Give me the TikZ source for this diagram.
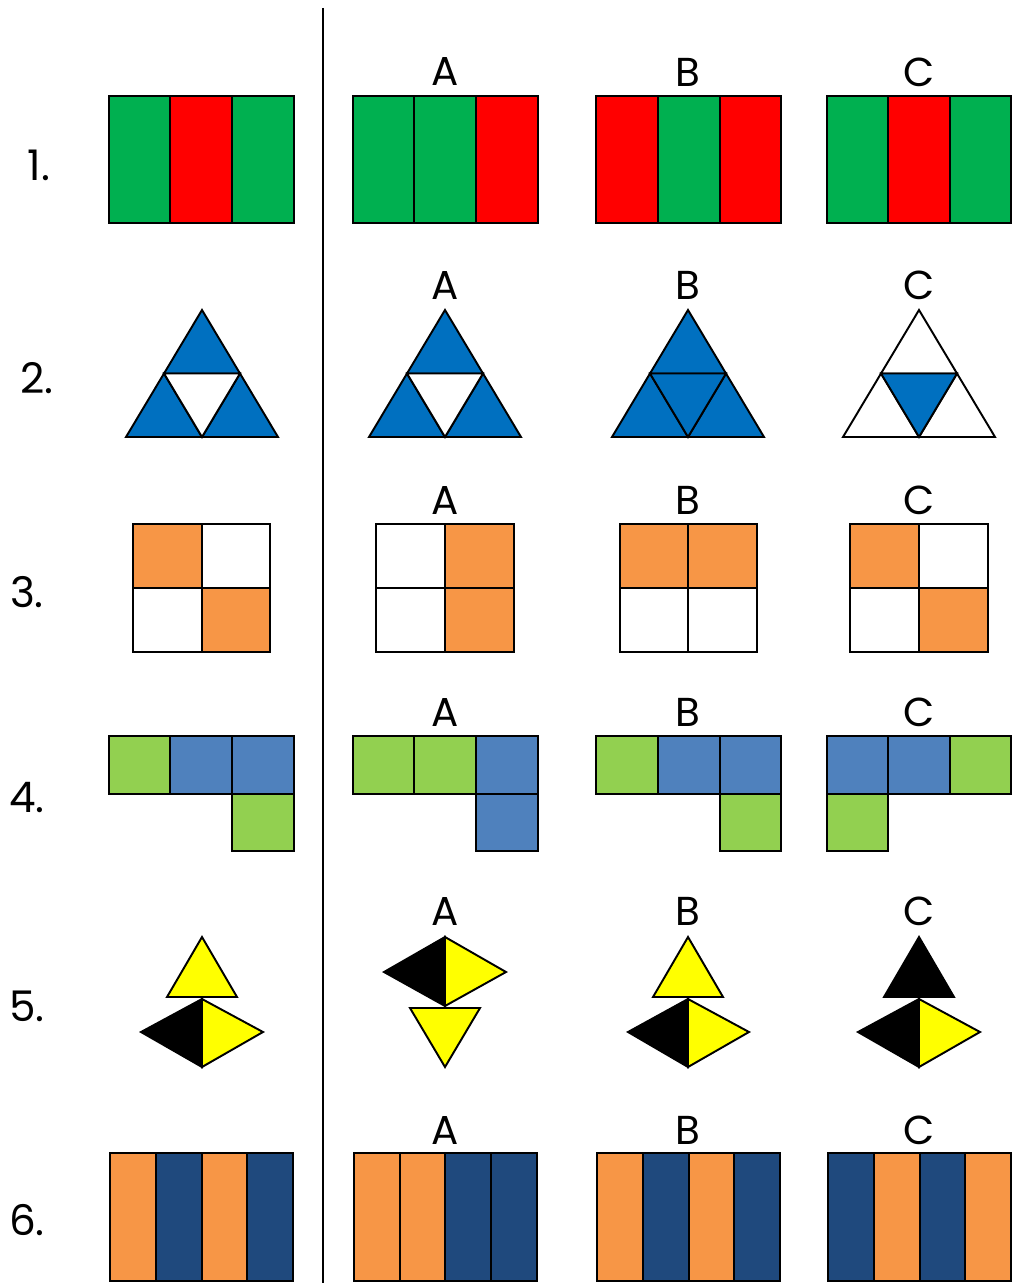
\documentclass[tikz,border=0pt]{standalone}
\usepackage{fontspec}
\setmainfont{Poppins}
\usepackage{xcolor}

\definecolor{grn}{HTML}{00B050}
\definecolor{rd}{HTML}{FF0000}
\definecolor{blu}{HTML}{0070C0}
\definecolor{orng}{HTML}{F79646}
\definecolor{lgrn}{HTML}{92D050}
\definecolor{mblu}{HTML}{4F81BD}
\definecolor{ylw}{HTML}{FFFF00}
\definecolor{navy}{HTML}{1F497D}

\begin{document}
\begin{tikzpicture}[
  x=0.02cm, y=-0.02cm,
  cell/.style={draw=black,line width=1.1pt,line join=miter},  rowlbl/.style={inner sep=0pt,font=\fontsize{24}{28}\selectfont},  optlbl/.style={inner sep=0pt,font=\fontsize{23}{27}\selectfont}
]
  \useasboundingbox (0,0) rectangle (1011,1283);
  \draw[line width=1.1pt] (323,8) -- (323,1283);

  % row numbers
  \node[rowlbl] (n1) at (39,165) {1.};
  \node[rowlbl] (n2) at (37,378) {2.};
  \node[rowlbl] (n3) at (27,592) {3.};
  \node[rowlbl] (n4) at (27,798) {4.};
  \node[rowlbl] (n5) at (27,1006) {5.};
  \node[rowlbl] (n6) at (27,1220) {6.};

  % option letters
  \node[optlbl] (a1) at (445,72) {A};
  \node[optlbl] (b1) at (688,72) {B};
  \node[optlbl] (c1) at (919,72) {C};
  \node[optlbl] (a2) at (445,285) {A};
  \node[optlbl] (b2) at (688,285) {B};
  \node[optlbl] (c2) at (919,285) {C};
  \node[optlbl] (a3) at (445,500) {A};
  \node[optlbl] (b3) at (688,500) {B};
  \node[optlbl] (c3) at (919,500) {C};
  \node[optlbl] (a4) at (445,712) {A};
  \node[optlbl] (b4) at (688,712) {B};
  \node[optlbl] (c4) at (919,712) {C};
  \node[optlbl] (a5) at (445,911) {A};
  \node[optlbl] (b5) at (688,911) {B};
  \node[optlbl] (c5) at (919,911) {C};
  \node[optlbl] (a6) at (445,1130) {A};
  \node[optlbl] (b6) at (688,1130) {B};
  \node[optlbl] (c6) at (919,1130) {C};

  % row 1
  \draw[cell,fill=grn] (109,96) rectangle (170,223);
  \draw[cell,fill=rd] (170,96) rectangle (232,223);
  \draw[cell,fill=grn] (232,96) rectangle (294,223);
  \draw[cell,fill=grn] (353,96) rectangle (414,223);
  \draw[cell,fill=grn] (414,96) rectangle (476,223);
  \draw[cell,fill=rd] (476,96) rectangle (538,223);
  \draw[cell,fill=rd] (596,96) rectangle (658,223);
  \draw[cell,fill=grn] (658,96) rectangle (720,223);
  \draw[cell,fill=rd] (720,96) rectangle (781,223);
  \draw[cell,fill=grn] (827,96) rectangle (888,223);
  \draw[cell,fill=rd] (888,96) rectangle (950,223);
  \draw[cell,fill=grn] (950,96) rectangle (1011,223);

  % row 2
  \draw[cell,fill=blu] (202,310) -- (164,373.5) -- (240,373.5) -- cycle;
  \draw[cell,fill=blu] (164,373.5) -- (126,437) -- (202,437) -- cycle;
  \draw[cell,fill=blu] (240,373.5) -- (202,437) -- (278,437) -- cycle;
  \draw[cell,fill=white] (164,373.5) -- (240,373.5) -- (202,437) -- cycle;
  \draw[cell,fill=blu] (445,310) -- (407,373.5) -- (483,373.5) -- cycle;
  \draw[cell,fill=blu] (407,373.5) -- (369,437) -- (445,437) -- cycle;
  \draw[cell,fill=blu] (483,373.5) -- (445,437) -- (521,437) -- cycle;
  \draw[cell,fill=white] (407,373.5) -- (483,373.5) -- (445,437) -- cycle;
  \draw[cell,fill=blu] (688,310) -- (650,373.5) -- (726,373.5) -- cycle;
  \draw[cell,fill=blu] (650,373.5) -- (612,437) -- (688,437) -- cycle;
  \draw[cell,fill=blu] (726,373.5) -- (688,437) -- (764,437) -- cycle;
  \draw[cell,fill=blu] (650,373.5) -- (726,373.5) -- (688,437) -- cycle;
  \draw[cell,fill=white] (919,310) -- (881,373.5) -- (957,373.5) -- cycle;
  \draw[cell,fill=white] (881,373.5) -- (843,437) -- (919,437) -- cycle;
  \draw[cell,fill=white] (957,373.5) -- (919,437) -- (995,437) -- cycle;
  \draw[cell,fill=blu] (881,373.5) -- (957,373.5) -- (919,437) -- cycle;

  % row 3
  \draw[cell,fill=orng] (133,524) rectangle (202,588);
  \draw[cell,fill=white] (202,524) rectangle (270,588);
  \draw[cell,fill=white] (133,588) rectangle (202,652);
  \draw[cell,fill=orng] (202,588) rectangle (270,652);
  \draw[cell,fill=white] (376,524) rectangle (445,588);
  \draw[cell,fill=orng] (445,524) rectangle (514,588);
  \draw[cell,fill=white] (376,588) rectangle (445,652);
  \draw[cell,fill=orng] (445,588) rectangle (514,652);
  \draw[cell,fill=orng] (620,524) rectangle (688,588);
  \draw[cell,fill=orng] (688,524) rectangle (757,588);
  \draw[cell,fill=white] (620,588) rectangle (688,652);
  \draw[cell,fill=white] (688,588) rectangle (757,652);
  \draw[cell,fill=orng] (850,524) rectangle (919,588);
  \draw[cell,fill=white] (919,524) rectangle (988,588);
  \draw[cell,fill=white] (850,588) rectangle (919,652);
  \draw[cell,fill=orng] (919,588) rectangle (988,652);

  % row 4
  \draw[cell,fill=lgrn] (109,736) rectangle (170,794);
  \draw[cell,fill=mblu] (170,736) rectangle (232,794);
  \draw[cell,fill=mblu] (232,736) rectangle (294,794);
  \draw[cell,fill=lgrn] (232,794) rectangle (294,851);
  \draw[cell,fill=lgrn] (353,736) rectangle (414,794);
  \draw[cell,fill=lgrn] (414,736) rectangle (476,794);
  \draw[cell,fill=mblu] (476,736) rectangle (538,794);
  \draw[cell,fill=mblu] (476,794) rectangle (538,851);
  \draw[cell,fill=lgrn] (596,736) rectangle (658,794);
  \draw[cell,fill=mblu] (658,736) rectangle (720,794);
  \draw[cell,fill=mblu] (720,736) rectangle (781,794);
  \draw[cell,fill=lgrn] (720,794) rectangle (781,851);
  \draw[cell,fill=mblu] (827,736) rectangle (888,794);
  \draw[cell,fill=mblu] (888,736) rectangle (950,794);
  \draw[cell,fill=lgrn] (950,736) rectangle (1011,794);
  \draw[cell,fill=lgrn] (827,794) rectangle (888,851);

  % row 5
  \draw[cell,fill=ylw] (202,937) -- (167,997) -- (237,997) -- cycle;
  \draw[cell,fill=black] (202,999) -- (141,1032) -- (202,1067) -- cycle;
  \draw[cell,fill=ylw] (202,999) -- (263,1032) -- (202,1067) -- cycle;
  \draw[cell,fill=black] (445,937) -- (384,972) -- (445,1006) -- cycle;
  \draw[cell,fill=ylw] (445,937) -- (506,972) -- (445,1006) -- cycle;
  \draw[cell,fill=ylw] (410,1008) -- (480,1008) -- (445,1067) -- cycle;
  \draw[cell,fill=ylw] (688,937) -- (653,997) -- (723,997) -- cycle;
  \draw[cell,fill=black] (688,999) -- (628,1032) -- (688,1067) -- cycle;
  \draw[cell,fill=ylw] (688,999) -- (749,1032) -- (688,1067) -- cycle;
  \draw[cell,fill=black] (919,937) -- (884,997) -- (954,997) -- cycle;
  \draw[cell,fill=black] (919,999) -- (858,1032) -- (919,1067) -- cycle;
  \draw[cell,fill=ylw] (919,999) -- (980,1032) -- (919,1067) -- cycle;

  % row 6
  \draw[cell,fill=orng] (110,1153) rectangle (156,1281);
  \draw[cell,fill=navy] (156,1153) rectangle (202,1281);
  \draw[cell,fill=orng] (202,1153) rectangle (247,1281);
  \draw[cell,fill=navy] (247,1153) rectangle (293,1281);
  \draw[cell,fill=orng] (354,1153) rectangle (400,1281);
  \draw[cell,fill=orng] (400,1153) rectangle (445,1281);
  \draw[cell,fill=navy] (445,1153) rectangle (491,1281);
  \draw[cell,fill=navy] (491,1153) rectangle (537,1281);
  \draw[cell,fill=orng] (597,1153) rectangle (643,1281);
  \draw[cell,fill=navy] (643,1153) rectangle (689,1281);
  \draw[cell,fill=orng] (689,1153) rectangle (734,1281);
  \draw[cell,fill=navy] (734,1153) rectangle (780,1281);
  \draw[cell,fill=navy] (828,1153) rectangle (874,1281);
  \draw[cell,fill=orng] (874,1153) rectangle (920,1281);
  \draw[cell,fill=navy] (920,1153) rectangle (965,1281);
  \draw[cell,fill=orng] (965,1153) rectangle (1011,1281);
\end{tikzpicture}
\end{document}
